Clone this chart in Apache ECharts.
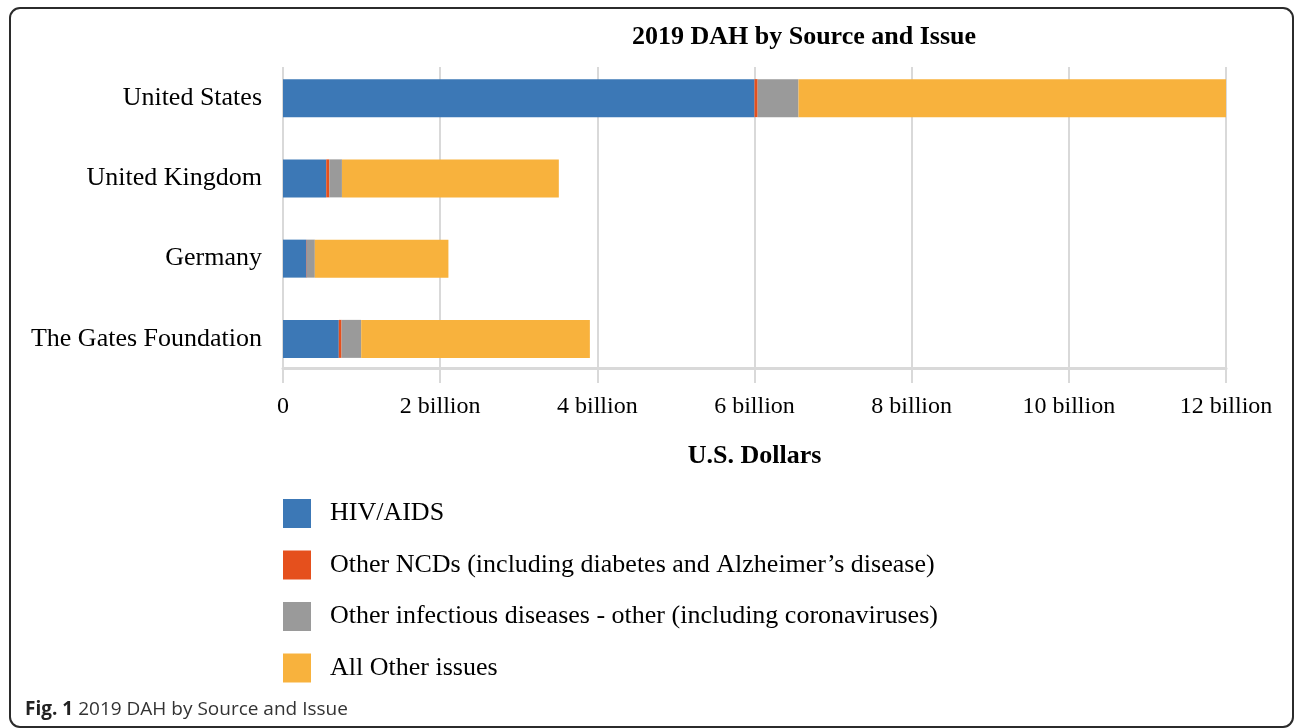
<!DOCTYPE html>
<html>
<head>
<meta charset="utf-8">
<script src="https://cdn.jsdelivr.net/npm/echarts@6/dist/echarts.min.js"></script>
<style>
html,body{margin:0;padding:0;background:#fff;}
#chart{width:1295px;height:728px;}
</style>
</head>
<body>
<div id="chart"></div>
<script>
// Values in billions of U.S. dollars
var categories = ['United States', 'United Kingdom', 'Germany', 'The Gates Foundation'];
var seriesNames = [
  'HIV/AIDS',
  'Other NCDs (including diabetes and Alzheimer\u2019s disease)',
  'Other infectious diseases - other (including coronaviruses)',
  'All Other issues'
];
var hivAids = [6.0, 0.55, 0.30, 0.71];
var otherNCDs = [0.04, 0.04, 0.005, 0.035];
var otherInfectious = [0.52, 0.16, 0.10, 0.25];
var allOther = [5.46, 2.76, 1.70, 2.91];
var tickLabels = ['0', '2 billion', '4 billion', '6 billion', '8 billion', '10 billion', '12 billion'];

var colors = ['#3C78B6', '#E5501D', '#9A9A9A', '#F8B23D'];
var serif = '"Liberation Serif", "Times New Roman", serif';
var seriesData = [hivAids, otherNCDs, otherInfectious, allOther];

var chart = echarts.init(document.getElementById('chart'), null, {renderer: 'canvas'});
var option = {
  backgroundColor: '#fff',
  animation: false,
  color: colors,
  title: [
    {
      text: '2019 DAH by Source and Issue',
      left: 804, top: 24, textAlign: 'center', padding: 0,
      textStyle: {fontFamily: serif, fontSize: 26, fontWeight: 'bold', color: '#000'}
    },
    {
      text: '{b|Fig. 1} {r|2019 DAH by Source and Issue}',
      left: 25, top: 700, padding: 0,
      textStyle: {
        fontWeight: 'normal',
        rich: {
          b: {fontFamily: '"Open Sans", sans-serif', fontSize: 19, fontWeight: 'bold', color: '#222'},
          r: {fontFamily: '"Open Sans", sans-serif', fontSize: 19, fontWeight: 'normal', color: '#333'}
        }
      }
    }
  ],
  legend: {
    orient: 'vertical',
    left: 283, top: 499,
    padding: 0,
    itemWidth: 28, itemHeight: 29, itemGap: 22.5,
    icon: 'rect',
    data: seriesNames,
    textStyle: {fontFamily: serif, fontSize: 26, color: '#000', padding: [0, 0, 0, 14]}
  },
  grid: [
    {left: 283, right: 69, top: 67, height: 301},
    {left: 283, right: 69, top: 58, height: 321}
  ],
  xAxis: [
    {
      gridIndex: 0, type: 'value', min: 0, max: 12, interval: 2,
      axisLine: {show: true, lineStyle: {color: '#d9d9d9', width: 3}},
      axisTick: {show: true, length: 15, lineStyle: {color: '#d9d9d9', width: 2}},
      splitLine: {show: true, lineStyle: {color: '#d9d9d9', width: 2}},
      axisLabel: {
        fontFamily: serif, fontSize: 24, color: '#000', margin: 27,
        formatter: function (v) { return tickLabels[Math.round(v / 2)]; }
      },
      name: 'U.S. Dollars', nameLocation: 'middle', nameGap: 75,
      nameTextStyle: {fontFamily: serif, fontSize: 26, fontWeight: 'bold', color: '#000'}
    },
    {gridIndex: 1, type: 'value', min: 0, max: 12, show: false}
  ],
  yAxis: [
    {gridIndex: 0, type: 'category', data: categories, show: false},
    {
      gridIndex: 1, type: 'category', data: categories, inverse: true,
      axisLine: {show: false}, axisTick: {show: false}, splitLine: {show: false},
      axisLabel: {fontFamily: serif, fontSize: 26, color: '#000', margin: 21}
    }
  ],
  series: seriesNames.map(function (name, i) {
    return {
      name: name, type: 'bar', stack: 'total',
      xAxisIndex: 1, yAxisIndex: 1,
      barWidth: 38,
      itemStyle: {color: colors[i]},
      data: seriesData[i]
    };
  }),
  graphic: [
    {
      type: 'rect', silent: true, z: 100,
      shape: {x: 10, y: 8, width: 1283, height: 719, r: 10},
      style: {fill: 'none', stroke: '#2b2b2b', lineWidth: 2}
    }
  ]
};
chart.setOption(option);
</script>
</body>
</html>
